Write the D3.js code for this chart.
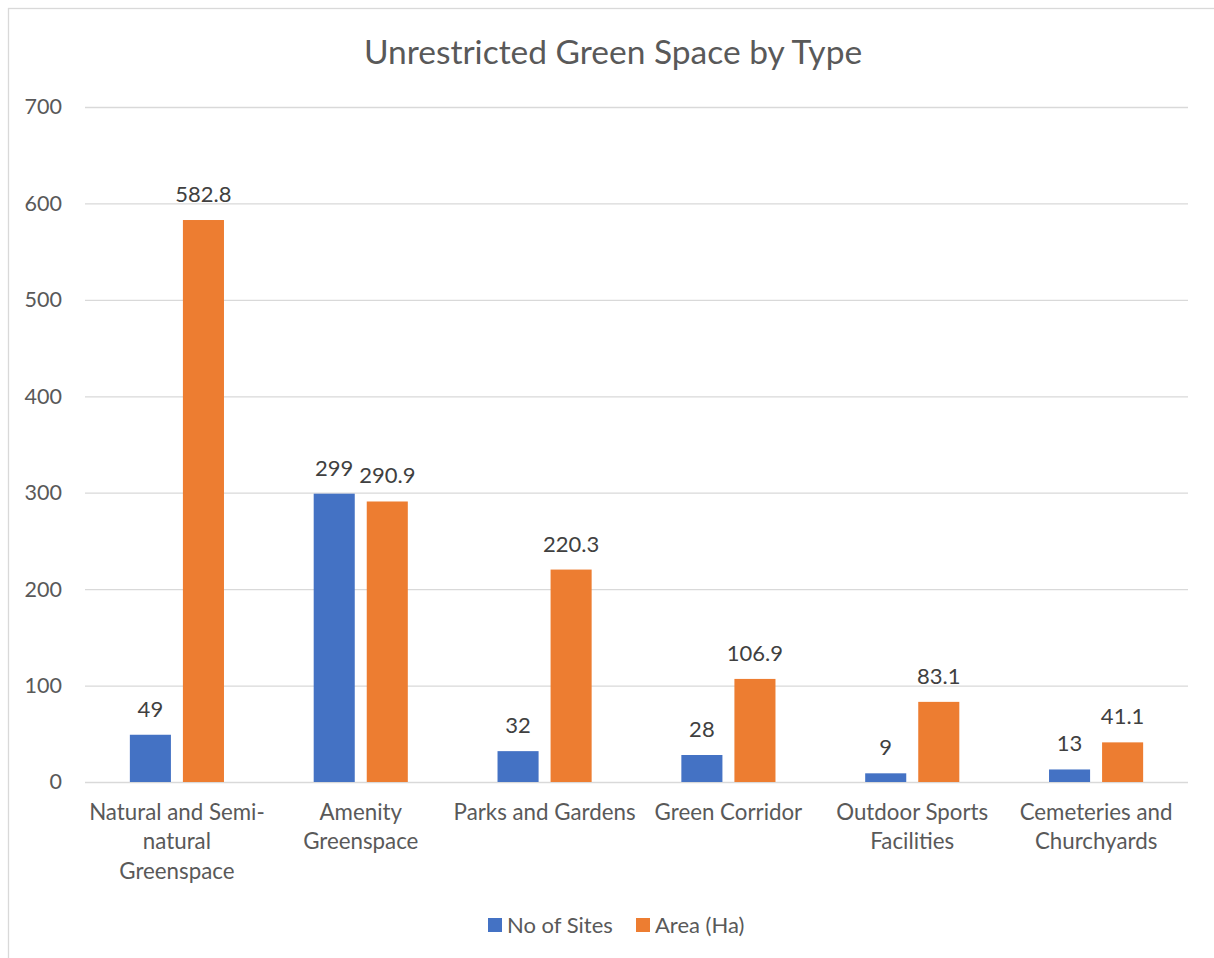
<!DOCTYPE html>
<html>
<head>
<meta charset="utf-8">
<script src="https://cdn.jsdelivr.net/npm/d3@7"></script>
<style>
  body { margin: 0; background: #fff; }
  text { font-family: Lato, "Open Sans", sans-serif; }
</style>
</head>
<body>
<div id="chart"></div>
<script>
"use strict";

const categories = [
    "Natural and Semi-natural Greenspace",
    "Amenity Greenspace",
    "Parks and Gardens",
    "Green Corridor",
    "Outdoor Sports Facilities",
    "Cemeteries and Churchyards"
];
// wrapped tick label lines, as shown under the axis
const categoryLines = [
    ["Natural and Semi-", "natural", "Greenspace"],
    ["Amenity", "Greenspace"],
    ["Parks and Gardens"],
    ["Green Corridor"],
    ["Outdoor Sports", "Facilities"],
    ["Cemeteries and", "Churchyards"]
];
const seriesNames = ["No of Sites", "Area (Ha)"];
const noOfSites = [49, 299, 32, 28, 9, 13];
const areaHa = [582.8, 290.9, 220.3, 106.9, 83.1, 41.1];
const areaLabels = ["582.8", "290.9", "220.3", "106.9", "83.1", "41.1"];
const yTicks = [0, 100, 200, 300, 400, 500, 600, 700];
const colors = ["#4472C4", "#ED7D31"];

const cont = {
    width: 1214,
    height: 958,
    left: 85,
    right: 1188,
    top: 107,
    bottom: 782
}

let svg = d3.select("#chart")
    .append("svg")
    .attr("width", cont.width)
    .attr("height", cont.height);

// chart frame
svg.append("rect")
    .attr("x", 8.5)
    .attr("y", 8.5)
    .attr("width", 1220)
    .attr("height", 970)
    .attr("fill", "#fff")
    .attr("stroke", "#d9d9d9")
    .attr("stroke-width", 1.3);

let yScale = d3.scaleLinear()
    .domain([0, 700])
    .range([cont.bottom, cont.top]);

let x0 = d3.scaleBand()
    .domain(categories)
    .range([cont.left, cont.right])
    .paddingInner(0.488)
    .paddingOuter(0.244);

let x1 = d3.scaleBand()
    .domain([0, 1])
    .range([0, x0.bandwidth()])
    .paddingInner(0.226);

// gridlines + y labels
let yAxis = d3.axisLeft(yScale)
    .tickValues(yTicks)
    .tickSize(-(cont.right - cont.left))
    .tickPadding(23);

let yG = svg.append("g")
    .attr("transform", "translate(" + cont.left + ",0)")
    .call(yAxis);
yG.select(".domain").remove();
yG.selectAll(".tick line")
    .attr("stroke", "#d9d9d9")
    .attr("stroke-width", 1.3);
yG.selectAll(".tick text")
    .attr("fill", "#595959")
    .style("font-size", "21.5px")
    .style("font-family", "Lato, sans-serif");

// bars
let rows = categories.map((c, i) => ({ cat: c, vals: [noOfSites[i], areaHa[i]], labels: [String(noOfSites[i]), areaLabels[i]] }));

let groups = svg.selectAll(".group")
    .data(rows)
    .enter()
    .append("g")
    .attr("class", "group")
    .attr("transform", (d) => "translate(" + x0(d.cat) + ",0)");

groups.selectAll("rect")
    .data((d) => d.vals.map((v, k) => ({ k: k, v: v, label: d.labels[k] })))
    .enter()
    .append("rect")
    .attr("x", (d) => x1(d.k))
    .attr("y", (d) => yScale(d.v))
    .attr("width", x1.bandwidth())
    .attr("height", (d) => yScale(0) - yScale(d.v))
    .attr("fill", (d) => colors[d.k]);

groups.selectAll(".lbl")
    .data((d) => d.vals.map((v, k) => ({ k: k, v: v, label: d.labels[k] })))
    .enter()
    .append("text")
    .attr("class", "lbl")
    .attr("x", (d) => x1(d.k) + x1.bandwidth() / 2)
    .attr("y", (d) => yScale(d.v) - 18)
    .attr("text-anchor", "middle")
    .attr("fill", "#404040")
    .style("font-size", "22px")
    .text((d) => d.label);

// category labels
let xLab = svg.selectAll(".xlab")
    .data(categories)
    .enter()
    .append("text")
    .attr("class", "xlab")
    .attr("text-anchor", "middle")
    .attr("fill", "#595959")
    .style("font-size", "22.3px")
    .attr("transform", (d) => "translate(" + (x0(d) + x0.bandwidth() / 2) + ",820)");

xLab.selectAll("tspan")
    .data((d, i) => categoryLines[i])
    .enter()
    .append("tspan")
    .attr("x", 0)
    .attr("y", (d, i) => i * 29.3)
    .text((d) => d);

// title
svg.append("text")
    .attr("x", 613)
    .attr("y", 64)
    .attr("text-anchor", "middle")
    .attr("fill", "#595959")
    .style("font-size", "33.5px")
    .text("Unrestricted Green Space by Type");

// legend
let legend = svg.append("g")
    .attr("transform", "translate(488,918)");

let legendX = [0, 148];
seriesNames.forEach((name, i) => {
    legend.append("rect")
        .attr("x", legendX[i])
        .attr("y", 0)
        .attr("width", 14)
        .attr("height", 14)
        .attr("fill", colors[i]);
    legend.append("text")
        .attr("x", legendX[i] + 19)
        .attr("y", 14.5)
        .attr("fill", "#595959")
        .style("font-size", "22px")
        .text(name);
});
</script>
</body>
</html>
